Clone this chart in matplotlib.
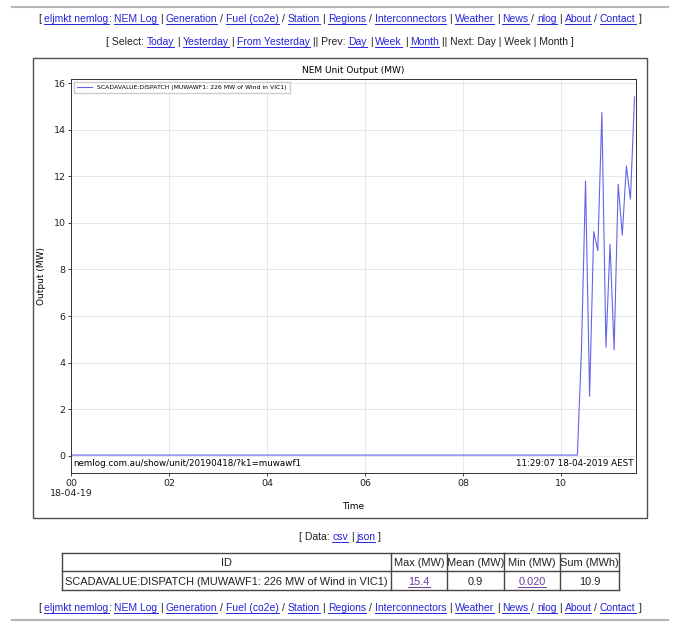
import re
import matplotlib
matplotlib.use("Agg")
import matplotlib.pyplot as plt
from matplotlib.lines import Line2D
from matplotlib.patches import Rectangle

W, H = 680, 626

# unit output, 5 minute dispatch (flat ~0 from midnight until 10:20)
times = ["00:00", "10:20", "10:25", "10:30", "10:35", "10:40", "10:45", "10:50",
         "10:55", "11:00", "11:05", "11:10", "11:15", "11:20", "11:25", "11:30"]
output_mw = [0.02, 0.02, 4.5, 11.8, 2.55, 9.63, 8.81, 14.75,
             4.66, 9.08, 4.55, 11.67, 9.48, 12.45, 11.03, 15.42]

tick_hours = [0, 2, 4, 6, 8, 10]
tick_labels = ["00\n18-04-19", "02", "04", "06", "08", "10"]
y_ticks = [0, 2, 4, 6, 8, 10, 12, 14, 16]

series_label = "SCADAVALUE:DISPATCH (MUWAWF1: 226 MW of Wind in VIC1)"
table_header = ["ID", "Max (MW)", "Mean (MW)", "Min (MW)", "Sum (MWh)"]
table_row = [series_label, "15.4", "0.9", "0.020", "10.9"]

nav_line = ("[ {eljmkt nemlog}: {NEM Log} | {Generation} / {Fuel (co2e)} / {Station} | "
            "{Regions} / {Interconnectors} | {Weather} | {News} / {nlog} | {About} / {Contact} ]")
select_line = ("[ Select: {Today} | {Yesterday} | {From Yesterday} || Prev: {Day} | {Week} | "
               "{Month} || Next: Day | Week | Month ]")
data_line = "[ Data: {csv} | {json} ]"

LINK = "#2424d8"
VISITED = "#6b3fa0"
TEXT = "#222222"
PAGE_FONT = "Liberation Sans"
PAGE_SIZE = 7.5
TABLE_SIZE = 7.9


def fx(px):
    return px / W


def fy(py):
    return 1 - py / H


fig = plt.figure(figsize=(W / 100, H / 100), dpi=100)
renderer = fig.canvas.get_renderer()


def advance(s, size):
    # pen advance of s: a leading space pins the box to the pen origin,
    # a trailing "x" keeps trailing spaces counted
    t = fig.text(0, 0, " " + s + "x", fontsize=size, family=PAGE_FONT)
    w = t.get_window_extent(renderer).width
    t.set_text(" x")
    w -= t.get_window_extent(renderer).width
    t.remove()
    return w


def page_line(markup, y, size=PAGE_SIZE, cx=340, color=LINK):
    # split "{link}" pieces from plain text, centre each piece on its own slot
    pieces = [(c, i % 2 == 1) for i, c in enumerate(re.split(r"[{}]", markup)) if c]
    full = "".join(c for c, _ in pieces)
    x0 = cx - advance(full, size) / 2
    prefix = ""
    for s, link in pieces:
        core = s.strip()
        lead = s[:len(s) - len(s.lstrip())]
        if core:
            start = x0 + advance(prefix + lead, size)
            end = x0 + advance(prefix + lead + core, size)
            mid = (start + end) / 2
            fig.text(fx(mid), fy(y), core, fontsize=size, family=PAGE_FONT,
                     color=color if link else TEXT, ha="center", va="baseline")
            if link:
                fig.add_artist(Line2D([fx(start), fx(end)], [fy(y + 1.5)] * 2,
                                      color=color, lw=0.7))
        prefix += s


# horizontal rules top and bottom of page
for yy in (7, 620):
    fig.add_artist(Line2D([fx(12), fx(668)], [fy(yy)] * 2, color="#b5b5b5", lw=1.5))

page_line(nav_line, 22)
page_line(select_line, 45)
page_line(data_line, 540)
page_line(nav_line, 611)

# chart frame
fig.add_artist(Rectangle((fx(33), fy(518)), fx(647) - fx(33), fy(58) - fy(518),
                         fill=False, edgecolor="#505050", lw=1.0,
                         transform=fig.transFigure))

hours = [int(t[:2]) + int(t[3:]) / 60 for t in times]

ax = fig.add_axes([fx(71), fy(473), fx(636) - fx(71), fy(79) - fy(473)])
ax.plot(hours, output_mw, color="#4848e6", lw=0.8, alpha=0.85, label=series_label)
ax.set_xlim(0, 11.53)
ax.set_xticks(tick_hours, tick_labels)
ax.set_yticks(y_ticks)
ax.grid(color="#e4e4e4", lw=0.6)
ax.tick_params(labelsize=6.8, length=2.5, width=0.6, pad=1.5, colors="#222222")
for sp in ax.spines.values():
    sp.set_color("#333333")
    sp.set_linewidth(0.7)
ax.set_title("NEM Unit Output (MW)", fontsize=6.5, pad=4)
ax.set_xlabel("Time", fontsize=6.5, labelpad=3)
ax.set_ylabel("Output (MW)", fontsize=6.5, labelpad=5)
ax.legend(loc="upper left", fontsize=4.4, handlelength=2.5, borderpad=0.5,
          framealpha=1, edgecolor="#cccccc", fancybox=False)
box = dict(facecolor="white", edgecolor="none", pad=1)
ax.text(0.004, 0.012, "nemlog.com.au/show/unit/20190418/?k1=muwawf1",
        transform=ax.transAxes, fontsize=6.3, ha="left", va="bottom", bbox=box)
ax.text(0.996, 0.012, "11:29:07 18-04-2019 AEST",
        transform=ax.transAxes, fontsize=6.3, ha="right", va="bottom", bbox=box)

# stats table
col_edges = [62, 391, 447, 504, 560, 619]
row_edges = [553, 571, 590]
for yy in row_edges:
    fig.add_artist(Line2D([fx(col_edges[0]), fx(col_edges[-1])], [fy(yy)] * 2,
                          color="#444444", lw=1.0))
for xx in col_edges:
    fig.add_artist(Line2D([fx(xx)] * 2, [fy(row_edges[0]), fy(row_edges[-1])],
                          color="#444444", lw=1.0))
for i, s in enumerate(table_header):
    xc = (col_edges[i] + col_edges[i + 1]) / 2
    fig.text(fx(xc), fy(566), s, fontsize=TABLE_SIZE, family=PAGE_FONT, color=TEXT,
             ha="center", va="baseline")
for i, s in enumerate(table_row):
    link = i in (1, 3)
    if i == 0:
        fig.text(fx(col_edges[0] + 3), fy(585), s, fontsize=TABLE_SIZE, family=PAGE_FONT,
                 color=TEXT, ha="left", va="baseline")
        continue
    xc = (col_edges[i] + col_edges[i + 1]) / 2
    fig.text(fx(xc), fy(585), s, fontsize=TABLE_SIZE, family=PAGE_FONT,
             color=VISITED if link else TEXT, ha="center", va="baseline")
    if link:
        w = advance(s, TABLE_SIZE)
        fig.add_artist(Line2D([fx(xc - w / 2), fx(xc + w / 2)], [fy(586.5)] * 2,
                              color=VISITED, lw=0.7))

fig.savefig("out.png", dpi=100)
